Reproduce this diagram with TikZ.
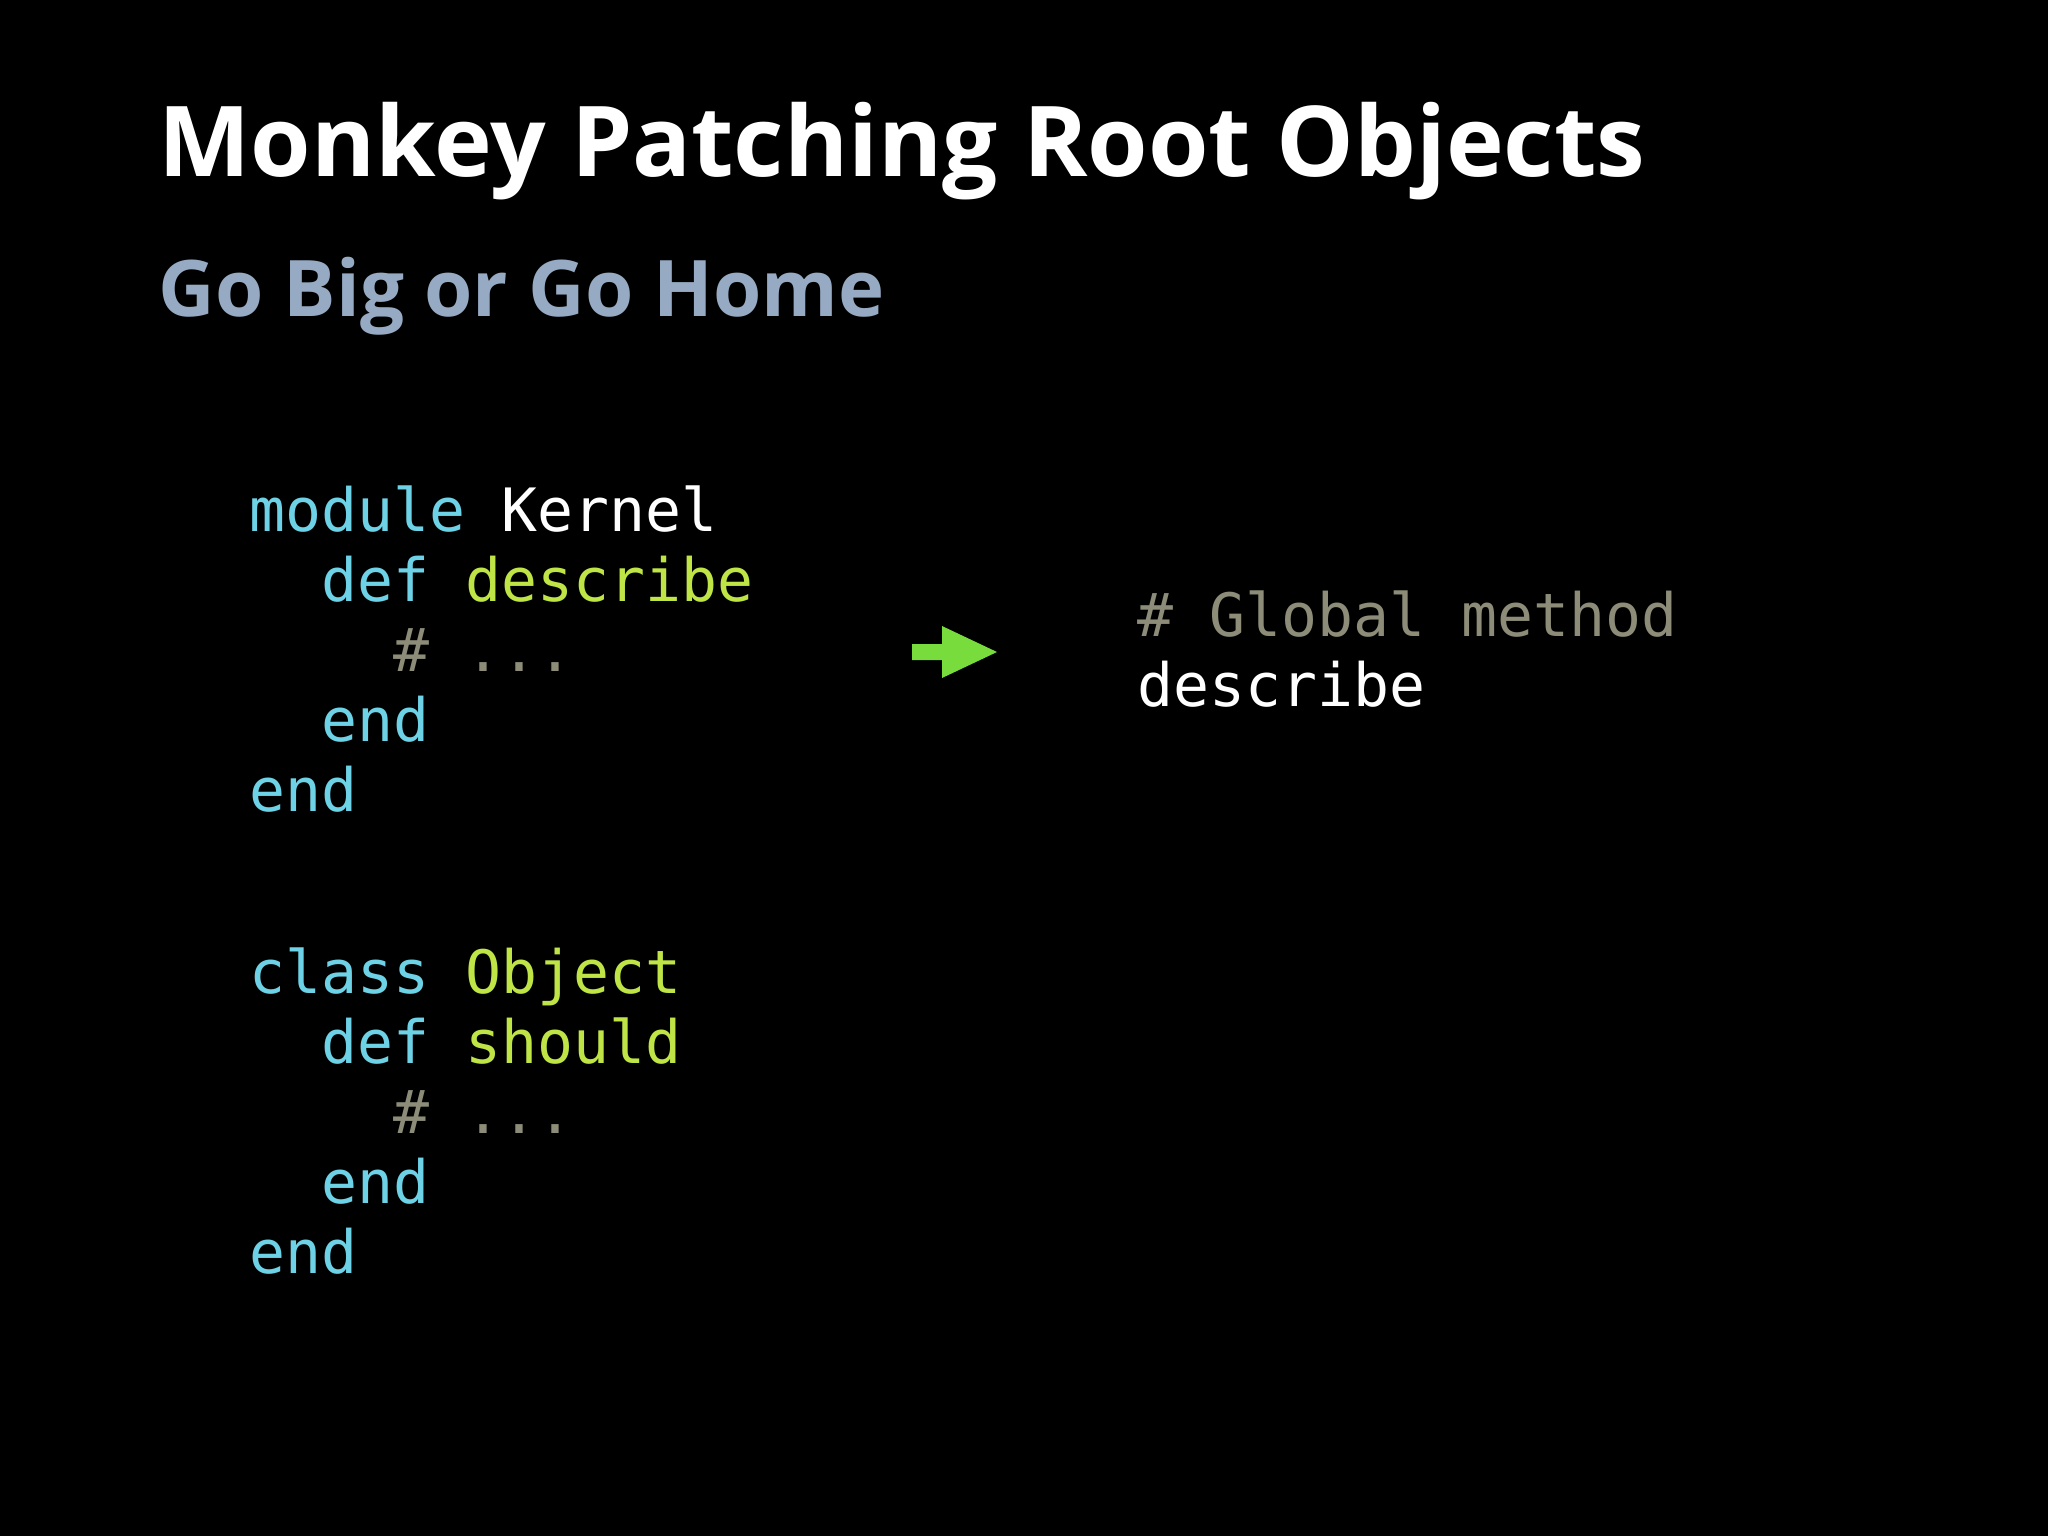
\documentclass[tikz,border=0pt]{standalone}
\usepackage{fontspec}
\setmainfont{Open Sans}
\newfontfamily\codefont{DejaVu Sans Mono}
\definecolor{kw}{RGB}{110,210,230}
\definecolor{nm}{RGB}{190,228,70}
\definecolor{cm}{RGB}{140,140,120}
\definecolor{sub}{RGB}{150,170,195}
\definecolor{arr}{RGB}{120,220,60}
\begin{document}
\begin{tikzpicture}[x=0.01cm,y=-0.01cm,
  code/.style={anchor=base west,inner sep=0,font=\codefont\fontsize{17}{20}\selectfont,text=white}]
\fill[black] (0,0) rectangle (2048,1536);
\node[anchor=base west,inner sep=0,text=white,font=\bfseries\fontsize{27.8}{32}\selectfont] (title) at (158,176) {Monkey Patching Root Objects};
\node[anchor=base west,inner sep=0,text=sub,font=\bfseries\fontsize{22.2}{26}\selectfont] (subtitle) at (158,316) {Go Big or Go Home};
\node[code] (l1) at (249,531) {\color{kw}module \color{white}Kernel};
\node[code] (l2) at (321,601) {\color{kw}def \color{nm}describe};
\node[code] (l3) at (393,671) {\color{cm}\# ...};
\node[code] (l4) at (321,741) {\color{kw}end};
\node[code] (l5) at (249,811) {\color{kw}end};
\node[code] (m1) at (249,993) {\color{kw}class \color{nm}Object};
\node[code] (m2) at (321,1063) {\color{kw}def \color{nm}should};
\node[code] (m3) at (393,1133) {\color{cm}\# ...};
\node[code] (m4) at (321,1203) {\color{kw}end};
\node[code] (m5) at (249,1273) {\color{kw}end};
\node[code] (r1) at (1137,636) {\color{cm}\# Global method};
\node[code] (r2) at (1137,706) {describe};
\fill[arr] (912,644) -- (942,644) -- (942,626) -- (997,652) -- (942,678) -- (942,660) -- (912,660) -- cycle;
\end{tikzpicture}
\end{document}
